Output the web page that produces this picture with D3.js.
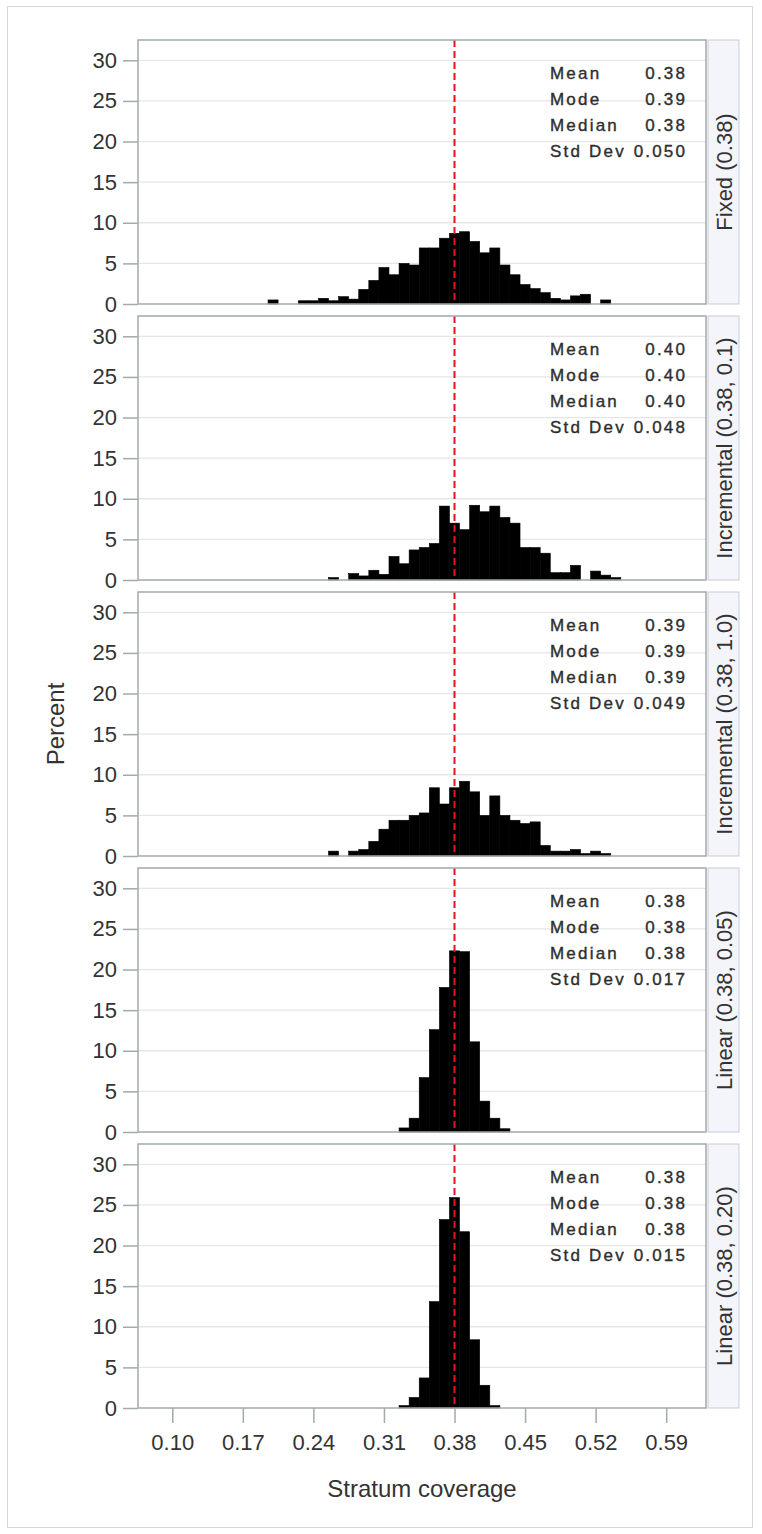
<!DOCTYPE html>
<html>
<head>
<meta charset="utf-8">
<script src="https://cdn.jsdelivr.net/npm/d3@7"></script>
<style>
  html, body { margin: 0; padding: 0; background: #fff; }
  svg text { font-family: "Liberation Sans", Arial, sans-serif; fill: #333; }
</style>
</head>
<body>
<svg id="chart" width="762" height="1534"></svg>
<script>
// Histogram bin midpoints (bin width 0.01)
const binMids = [0.20, 0.21, 0.22, 0.23, 0.24, 0.25, 0.26, 0.27, 0.28, 0.29,
                 0.30, 0.31, 0.32, 0.33, 0.34, 0.35, 0.36, 0.37, 0.38, 0.39,
                 0.40, 0.41, 0.42, 0.43, 0.44, 0.45, 0.46, 0.47, 0.48, 0.49,
                 0.50, 0.51, 0.52, 0.53, 0.54];
const binWidth = 0.01;

// Percent of runs in each bin, one array per scenario (aligned with binMids)
const fixedPct = [0.5, 0, 0, 0.4, 0.4, 0.7, 0.4, 0.9, 0.6, 1.8,
                  2.9, 4.5, 3.6, 5.0, 4.8, 6.9, 6.9, 8.1, 8.7, 8.9,
                  7.7, 6.3, 6.9, 4.8, 3.6, 2.4, 1.9, 1.4, 0.7, 0.5,
                  1.0, 1.2, 0, 0.5, 0];
const incr01Pct = [0, 0, 0, 0, 0, 0, 0.3, 0, 0.8, 0.5,
                   1.2, 0.7, 2.9, 2.0, 3.7, 4.0, 4.5, 9.1, 7.0, 6.2,
                   9.2, 8.4, 9.1, 7.7, 7.0, 4.0, 4.0, 3.3, 0.9, 0.9,
                   1.8, 0, 1.1, 0.6, 0.3];
const incr10Pct = [0, 0, 0, 0, 0, 0, 0.6, 0, 0.6, 0.8,
                   1.8, 3.3, 4.4, 4.4, 5.0, 5.3, 8.4, 6.4, 8.4, 9.2,
                   7.9, 5.0, 7.4, 5.0, 4.4, 4.0, 4.2, 1.3, 0.6, 0.6,
                   0.8, 0.3, 0.6, 0.3, 0];
const lin005Pct = [0, 0, 0, 0, 0, 0, 0, 0, 0, 0,
                   0, 0, 0, 0.5, 1.7, 6.7, 12.6, 17.8, 22.3, 22.2,
                   11.1, 3.8, 1.7, 0.4, 0, 0, 0, 0, 0, 0,
                   0, 0, 0, 0, 0];
const lin020Pct = [0, 0, 0, 0, 0, 0, 0, 0, 0, 0,
                   0, 0, 0, 0.3, 1.3, 3.7, 13.1, 23.2, 25.9, 21.7,
                   8.4, 2.8, 0.3, 0, 0, 0, 0, 0, 0, 0,
                   0, 0, 0, 0, 0];

const panelLabels = ["Fixed (0.38)", "Incremental (0.38, 0.1)", "Incremental (0.38, 1.0)",
                     "Linear (0.38, 0.05)", "Linear (0.38, 0.20)"];
const panelSeries = [fixedPct, incr01Pct, incr10Pct, lin005Pct, lin020Pct];

// Summary statistics inset
const statNames = ["Mean", "Mode", "Median", "Std Dev"];
const statValues = [
  ["0.38", "0.39", "0.38", "0.050"],
  ["0.40", "0.40", "0.40", "0.048"],
  ["0.39", "0.39", "0.39", "0.049"],
  ["0.38", "0.38", "0.38", "0.017"],
  ["0.38", "0.38", "0.38", "0.015"]
];

const referenceValue = 0.38;
const xTicks = [0.10, 0.17, 0.24, 0.31, 0.38, 0.45, 0.52, 0.59];
const yTicks = [0, 5, 10, 15, 20, 25, 30];

// Layout
const plotLeft = 138, plotRight = 706;
const stripLeft = 708, stripRight = 739;
const firstTop = 40, panelStep = 276, panelH = 264;

const svg = d3.select("#chart");

// outer frame
svg.append("rect")
  .attr("x", 7.5).attr("y", 6.5).attr("width", 745).attr("height", 1521)
  .attr("fill", "#fff").attr("stroke", "#d6d6d6").attr("stroke-width", 1);

const x = d3.scaleLinear().domain([0.066, 0.6295]).range([plotLeft, plotRight]);
const y = d3.scaleLinear().domain([0, 32.5]).range([panelH, 0]);

panelSeries.forEach((series, i) => {
  const top = firstTop + i * panelStep;
  const g = svg.append("g").attr("transform", `translate(0,${top})`);

  // gridlines
  g.selectAll("line.grid").data(yTicks.filter(d => d > 0)).join("line")
    .attr("class", "grid")
    .attr("x1", plotLeft).attr("x2", plotRight)
    .attr("y1", d => y(d)).attr("y2", d => y(d))
    .attr("stroke", "#e6e6e6").attr("stroke-width", 1.3);

  // bars
  const bins = binMids.map((m, k) => ({ mid: m, pct: series[k] })).filter(d => d.pct > 0);
  g.selectAll("rect.bar").data(bins).join("rect")
    .attr("class", "bar")
    .attr("x", d => x(d.mid - binWidth / 2))
    .attr("width", d => x(d.mid + binWidth / 2) - x(d.mid - binWidth / 2))
    .attr("y", d => y(d.pct))
    .attr("height", d => y(0) - y(d.pct))
    .attr("fill", "#000").attr("stroke", "#000").attr("stroke-width", 0.6);

  // reference line
  g.append("line")
    .attr("x1", x(referenceValue)).attr("x2", x(referenceValue))
    .attr("y1", 0).attr("y2", panelH)
    .attr("stroke", "#e8141b").attr("stroke-width", 2)
    .attr("stroke-dasharray", "7,4");

  // plot frame
  g.append("rect")
    .attr("x", plotLeft).attr("y", 0)
    .attr("width", plotRight - plotLeft).attr("height", panelH)
    .attr("fill", "none").attr("stroke", "#a3a9ad").attr("stroke-width", 1.5);

  // y axis
  const yAxis = d3.axisLeft(y).tickValues(yTicks).tickSize(15).tickPadding(6);
  const ya = g.append("g").attr("transform", `translate(${plotLeft},0)`).call(yAxis);
  ya.select(".domain").remove();
  ya.selectAll(".tick line").attr("stroke", "#a3a9ad").attr("stroke-width", 1.5);
  ya.selectAll(".tick text").attr("font-size", 22).attr("fill", "#333")
    .attr("font-family", "'Liberation Sans', Arial, sans-serif");

  // strip with scenario name
  g.append("rect")
    .attr("x", stripLeft).attr("y", 0)
    .attr("width", stripRight - stripLeft).attr("height", panelH)
    .attr("fill", "#f4f5fb").attr("stroke", "#c9ccd2").attr("stroke-width", 1);
  g.append("text")
    .attr("transform", `translate(${(stripLeft + stripRight) / 2 + 8},${panelH / 2}) rotate(-90)`)
    .attr("text-anchor", "middle")
    .attr("font-size", 22)
    .text(panelLabels[i]);

  // statistics inset
  statNames.forEach((name, r) => {
    const by = 39 + r * 26;
    g.append("text").attr("x", 550).attr("y", by)
      .attr("font-size", 17).attr("letter-spacing", 2.2).attr("fill", "#222")
      .attr("stroke", "#222").attr("stroke-width", 0.35)
      .text(name);
    g.append("text").attr("x", 687.2).attr("y", by)
      .attr("text-anchor", "end")
      .attr("font-size", 17).attr("letter-spacing", 2.2).attr("fill", "#222")
      .attr("stroke", "#222").attr("stroke-width", 0.35)
      .text(statValues[i][r]);
  });

  // x axis on the bottom panel only
  if (i === panelSeries.length - 1) {
    const xAxis = d3.axisBottom(x).tickValues(xTicks).tickSize(15).tickPadding(11)
      .tickFormat(d3.format(".2f"));
    const xa = g.append("g").attr("transform", `translate(0,${panelH})`).call(xAxis);
    xa.select(".domain").remove();
    xa.selectAll(".tick line").attr("stroke", "#a3a9ad").attr("stroke-width", 1.5);
    xa.selectAll(".tick text").attr("font-size", 22).attr("fill", "#333")
      .attr("font-family", "'Liberation Sans', Arial, sans-serif");
  }
});

// axis titles
const lastBottom = firstTop + 4 * panelStep + panelH;
svg.append("text")
  .attr("x", (plotLeft + plotRight) / 2).attr("y", lastBottom + 89)
  .attr("text-anchor", "middle").attr("font-size", 24)
  .text("Stratum coverage");
svg.append("text")
  .attr("transform", `translate(64,${(firstTop + lastBottom) / 2}) rotate(-90)`)
  .attr("text-anchor", "middle").attr("font-size", 24)
  .text("Percent");
</script>
</body>
</html>
